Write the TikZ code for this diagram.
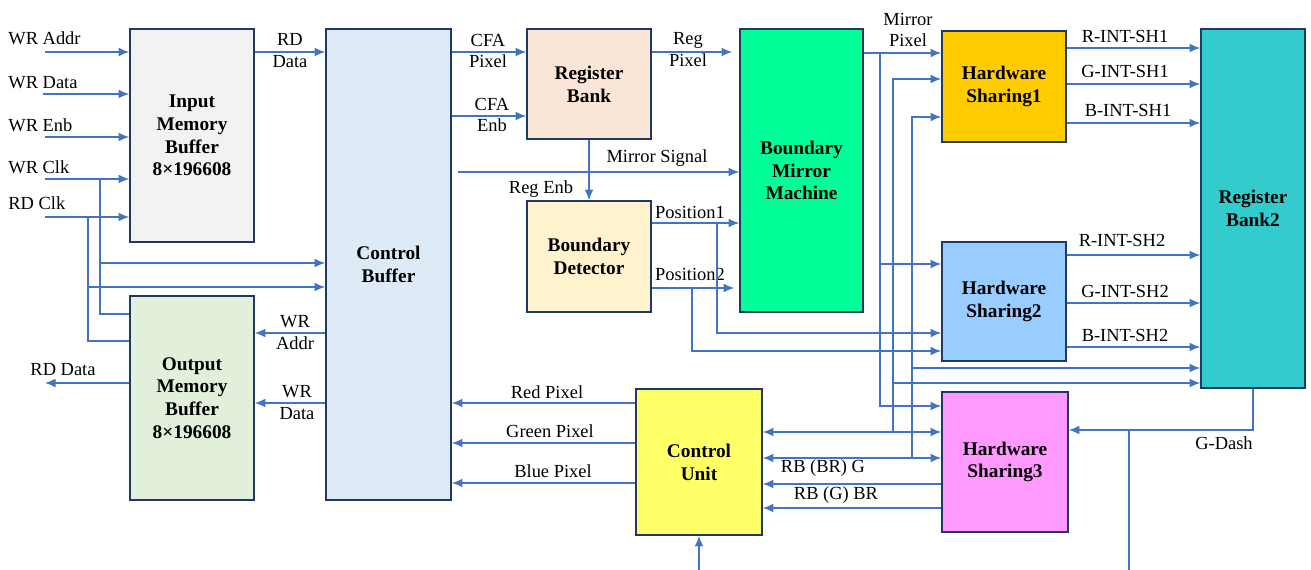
\documentclass[tikz,border=0pt]{standalone}
\usepackage{fontspec}
\setmainfont{Liberation Serif}
\usepackage{xcolor}
\usetikzlibrary{arrows.meta, calc}

\newlength\px
\setlength\px{0.02cm}

\definecolor{boxline}{HTML}{1F3864}
\definecolor{wirecol}{HTML}{4472C4}
\definecolor{imbfill}{HTML}{F2F2F2}
\definecolor{ombfill}{HTML}{E2EFDA}
\definecolor{cbuffill}{HTML}{DEEBF7}
\definecolor{rbankfill}{HTML}{FBE5D6}
\definecolor{bdetfill}{HTML}{FFF2CC}
\definecolor{bmmfill}{HTML}{00FF99}
\definecolor{hsafill}{HTML}{FFCC00}
\definecolor{hsbfill}{HTML}{99CCFF}
\definecolor{hscfill}{HTML}{FF99FF}
\definecolor{rbbfill}{HTML}{33CCCC}
\definecolor{cufill}{HTML}{FFFF66}

\begin{document}
\begin{tikzpicture}[
    x=1\px, y=-1\px,
    block/.style={draw=boxline, line width=1pt, rectangle, align=center, inner sep=0pt, font=\fontsize{11}{13}\selectfont\bfseries},
    lbl/.style={inner sep=0pt, align=center, font=\fontsize{10.5}{12.5}\selectfont},
    wire/.style={draw=wirecol, line width=0.7pt},
    arrow/.style={wire, ->, >={Latex[length=6pt, width=5pt]}},
    darrow/.style={wire, <->, >={Latex[length=6pt, width=5pt]}}
]
\useasboundingbox (0,0) rectangle (1311,570);

% Nodes
\node (imb) [block, fill=imbfill, minimum width=124\px, minimum height=213\px] at (192,135.5) {Input\\Memory\\Buffer\\8×196608};
\node (omb) [block, fill=ombfill, minimum width=124\px, minimum height=204\px] at (192,398) {Output\\Memory\\Buffer\\8×196608};
\node (cbuf) [block, fill=cbuffill, minimum width=125\px, minimum height=471\px] at (388.5,264.5) {Control\\Buffer};
\node (rbank) [block, fill=rbankfill, minimum width=124\px, minimum height=110\px] at (589,84) {Register\\Bank};
\node (bdet) [block, fill=bdetfill, minimum width=124\px, minimum height=111\px] at (589,256.5) {Boundary\\Detector};
\node (bmm) [block, fill=bmmfill, minimum width=123\px, minimum height=283\px] at (801.5,170.5) {Boundary\\Mirror\\Machine};
\node (hs1) [block, fill=hsafill, minimum width=124\px, minimum height=111\px] at (1004,86.5) {Hardware\\Sharing1};
\node (hs2) [block, fill=hsbfill, minimum width=124\px, minimum height=119\px] at (1004,301.5) {Hardware\\Sharing2};
\node (hs3) [block, fill=hscfill, minimum width=126\px, minimum height=140\px] at (1005,462) {Hardware\\Sharing3};
\node (rb2) [block, fill=rbbfill, minimum width=104\px, minimum height=359\px] at (1253,208.5) {Register\\Bank2};
\node (cu) [block, fill=cufill, minimum width=126\px, minimum height=146\px] at (699,462) {Control\\Unit};

% Free ends and junctions
\coordinate (inaddr) at (45,52);
\coordinate (indata) at (43,94);
\coordinate (inenb) at (45,137);
\coordinate (inwclk) at (45,179);
\coordinate (inrclk) at (45,217);
\coordinate (rdout) at (45,383);
\coordinate (jwclk) at (100,179);
\coordinate (jrclk) at (88,217);
\coordinate (msig) at (458,172);
\coordinate (jpos1) at (717,223);
\coordinate (jpos2) at (692,288);
\coordinate (jmirr) at (880,53);
\coordinate (jcu1) at (893,432);
\coordinate (jcu2) at (912,458);
\coordinate (gin) at (1129,570);
\coordinate (cuin) at (699,570);

% Labels
\node (lwaddr) [lbl, anchor=west] at (8,38) {WR Addr};
\node (lwdata) [lbl, anchor=west] at (8,83) {WR Data};
\node (lwenb) [lbl, anchor=west] at (8,125) {WR Enb};
\node (lwclk) [lbl, anchor=west] at (8,167) {WR Clk};
\node (lrclk) [lbl, anchor=west] at (8,203) {RD Clk};
\node (lrdin) [lbl] at (290,51) {RD\\Data};
\node (lwaddrb) [lbl] at (295,333) {WR\\Addr};
\node (lwdatab) [lbl] at (297,403) {WR\\Data};
\node (lrdout) [lbl] at (63,370) {RD Data};
\node (lcfapix) [lbl] at (488,51) {CFA\\Pixel};
\node (lcfaenb) [lbl] at (492,115) {CFA\\Enb};
\node (lregpix) [lbl] at (688,50) {Reg\\Pixel};
\node (lmsig) [lbl] at (657,158) {Mirror Signal};
\node (lregenb) [lbl] at (541,189) {Reg Enb};
\node (lpos1) [lbl] at (690,212) {Position1};
\node (lpos2) [lbl] at (690,274) {Position2};
\node (lmpix) [lbl] at (908,30) {Mirror\\Pixel};
\node (lrsh1) [lbl] at (1125,36) {R-INT-SH1};
\node (lgsh1) [lbl] at (1125,71) {G-INT-SH1};
\node (lbsh1) [lbl] at (1128,110) {B-INT-SH1};
\node (lrsh2) [lbl] at (1122,240) {R-INT-SH2};
\node (lgsh2) [lbl] at (1125,291) {G-INT-SH2};
\node (lbsh2) [lbl] at (1125,335) {B-INT-SH2};
\node (lgdash) [lbl] at (1224,443) {G-Dash};
\node (lred) [lbl] at (547,392) {Red Pixel};
\node (lgreen) [lbl] at (550,431) {Green Pixel};
\node (lblue) [lbl] at (553,471) {Blue Pixel};
\node (lrbg) [lbl] at (823,468) {RB (BR) G};
\node (lrbbr) [lbl] at (836,495) {RB (G) BR};

% Links
\draw[arrow] (inaddr) -- (imb.west |- inaddr);
\draw[arrow] (indata) -- (imb.west |- indata);
\draw[arrow] (inenb) -- (imb.west |- inenb);
\draw[arrow] (inwclk) -- (imb.west |- inwclk);
\draw[arrow] (inrclk) -- (imb.west |- inrclk);
\draw[wire] (jwclk) |- (omb.west |- 0,314);
\draw[wire] (jrclk) |- (omb.west |- 0,341);
\draw[arrow] (jwclk |- 0,263) -- (cbuf.west |- 0,263);
\draw[arrow] (jrclk |- 0,287) -- (cbuf.west |- 0,287);
\draw[arrow] (imb.east |- 0,52) -- (cbuf.west |- 0,52);
\draw[arrow] (cbuf.west |- 0,333) -- (omb.east |- 0,333);
\draw[arrow] (cbuf.west |- 0,403) -- (omb.east |- 0,403);
\draw[arrow] (omb.west |- rdout) -- (rdout);

\draw[arrow] (cbuf.east |- 0,52) -- (rbank.west |- 0,52);
\draw[arrow] (cbuf.east |- 0,116) -- (rbank.west |- 0,116);
\draw[arrow, shorten >=7\px] (rbank.east |- 0,52) -- (bmm.west |- 0,52);
\draw[arrow] (msig) -- (bmm.west |- msig);
\draw[arrow] (rbank.south) -- (bdet.north);
\draw[arrow] (bdet.east |- jpos1) -- (bmm.west |- jpos1);
\draw[arrow, shorten >=5\px] (bdet.east |- jpos2) -- (bmm.west |- jpos2);
\draw[arrow] (jpos1) |- (hs2.west |- 0,333);
\draw[arrow] (jpos2) |- (hs2.west |- 0,351);

\draw[arrow] (bmm.east |- jmirr) -- (hs1.west |- jmirr);
\draw[arrow] (jmirr) |- (hs3.west |- 0,406);
\draw[arrow] (jmirr |- 0,264) -- (hs2.west |- 0,264);
\draw[darrow] (cu.east |- jcu1) -- (hs3.west |- jcu1);
\draw[darrow] (cu.east |- jcu2) -- (hs3.west |- jcu2);
\draw[arrow] (jcu1) |- (hs1.west |- 0,79);
\draw[arrow] (jcu2) |- (hs1.west |- 0,117);
\draw[arrow] (jcu1 |- 0,383) -- (rb2.west |- 0,383);
\draw[arrow] (jcu2 |- 0,368) -- (rb2.west |- 0,368);

\draw[arrow] (hs1.east |- 0,48) -- (rb2.west |- 0,48);
\draw[arrow] (hs1.east |- 0,84) -- (rb2.west |- 0,84);
\draw[arrow] (hs1.east |- 0,123) -- (rb2.west |- 0,123);
\draw[arrow] (hs2.east |- 0,255) -- (rb2.west |- 0,255);
\draw[arrow] (hs2.east |- 0,303) -- (rb2.west |- 0,303);
\draw[arrow] (hs2.east |- 0,347) -- (rb2.west |- 0,347);
\draw[arrow] (rb2.south) |- (hs3.east |- 0,430);
\draw[wire] (gin) -- (gin |- 0,430);

\draw[arrow] (cu.west |- 0,403) -- (cbuf.east |- 0,403);
\draw[arrow] (cu.west |- 0,443) -- (cbuf.east |- 0,443);
\draw[arrow] (cu.west |- 0,483) -- (cbuf.east |- 0,483);
\draw[arrow] (hs3.west |- 0,484) -- (cu.east |- 0,484);
\draw[arrow] (hs3.west |- 0,508) -- (cu.east |- 0,508);
\draw[arrow] (cuin) -- (cu.south);

\end{tikzpicture}
\end{document}
